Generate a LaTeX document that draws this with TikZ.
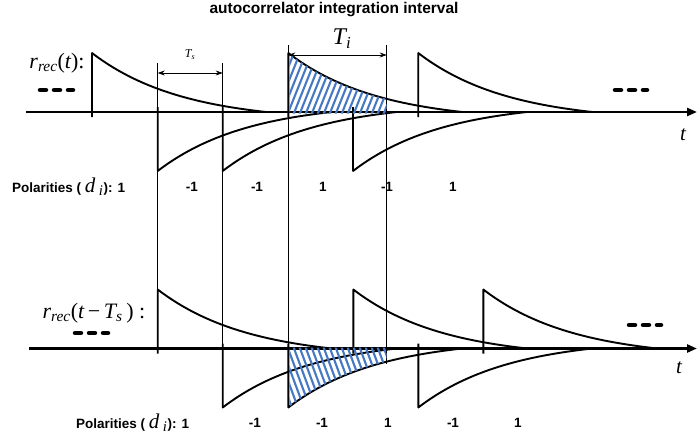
\documentclass[tikz,border=0pt]{standalone}
\usepackage{fontspec}
\setmainfont{Liberation Sans}
\newfontfamily\tms{Liberation Serif}
\usetikzlibrary{arrows.meta}
\definecolor{hatchblue}{RGB}{70,120,196}
\newcommand\pulseat[3]{%
  \draw[sig] (#1,{#2+5*(#3)}) -- (#1,{#2-59*(#3)}) --
    plot[domain=0:174,samples=60] ({#1+\x},{#2-59*(#3)*(exp(-\x/90)-0.1447)/0.8553});}
\begin{document}
\begin{tikzpicture}[x=1pt,y=-1pt,
  axis/.style={line width=2.4pt,-{Triangle[length=10pt,width=8pt]}},
  sig/.style={line width=1.9pt,line join=round},
  guide/.style={line width=0.8pt},
  dim/.style={line width=0.8pt,{Stealth[length=7pt,width=5pt]}-{Stealth[length=7pt,width=5pt]}},
  hatch/.style={draw=hatchblue,line width=2.1pt},
  lbl/.style={font=\bfseries\fontsize{13.5}{15}\selectfont,inner sep=0pt},
  more/.style={line width=4.5pt,line cap=round,dash pattern=on 6pt off 8pt}
]
\useasboundingbox (0,0) rectangle (697,439);

% title
\node[font=\bfseries\fontsize{15.5}{17}\selectfont,inner sep=0pt] (title) at (334,10) {autocorrelator integration interval};

% guide lines
\coordinate (v1t) at (157.7,63);  \coordinate (v1b) at (157.7,348.5);
\coordinate (v2t) at (222.7,63);  \coordinate (v2b) at (222.7,348.5);
\coordinate (v3t) at (288.3,45);  \coordinate (v3b) at (288.3,406);
\coordinate (v4t) at (386.7,45);  \coordinate (v4b) at (386.7,364);
\draw[guide] (v1t) -- (v1b);
\draw[guide] (v2t) -- (v2b);
\draw[guide] (v3t) -- (v3b);
\draw[guide] (v4t) -- (v4b);

% dimension arrows
\coordinate (tsl) at (157.7,73); \coordinate (tsr) at (222.7,73);
\draw[dim] (tsl) -- (tsr);
\node[inner sep=0pt] (tslabel) at (190,55) {\tms\fontsize{12}{13}\selectfont\itshape T\textsubscript{s}};
\coordinate (til) at (288.3,55); \coordinate (tir) at (386.7,55);
\draw[dim] (til) -- (tir);
\node[inner sep=0pt] (tilabel) at (342,39) {\tms\fontsize{24}{26}\selectfont\itshape T\textsubscript{i}};

% axes
\coordinate (a1s) at (26,112);  \coordinate (a1e) at (697,112);
\coordinate (a2s) at (29,348.5); \coordinate (a2e) at (697,348.5);
\draw[axis] (a1s) -- (a1e);
\draw[axis] (a2s) -- (a2e);
\node[inner sep=0pt] (t1) at (683,135) {\tms\fontsize{21}{23}\selectfont\itshape t};
\node[inner sep=0pt] (t2) at (679,368) {\tms\fontsize{21}{23}\selectfont\itshape t};

% top signal
\pulseat{92}{112}{1}
\pulseat{157.7}{112}{-1}
\pulseat{222.7}{112}{-1}
\pulseat{288.3}{112}{1}
\pulseat{353}{112}{-1}
\pulseat{418.2}{112}{1}

% bottom signal
\pulseat{157.7}{348.5}{1}
\pulseat{222.7}{348.5}{-1}
\pulseat{288.3}{348.5}{-1}
\pulseat{353.3}{348.5}{1}
\pulseat{418.3}{348.5}{-1}
\pulseat{483.3}{348.5}{1}

% hatched areas
\begin{scope}
  \clip (289.3,112) -- plot[domain=1:98.4,samples=40] ({288.3+\x},{112-59*(exp(-\x/90)-0.1447)/0.8553}) -- (386.7,112) -- (386.7,113.5) -- (289.3,113.5) -- cycle;
  \foreach \i in {0,...,22} \draw[hatch] ({262+6*\i},118) -- ++(28,-70);
\end{scope}
\begin{scope}
  \clip (289.3,347.5) -- (289.3,407) -- plot[domain=1:98.4,samples=40] ({288.3+\x},{348.5+59*(exp(-\x/90)-0.1447)/0.8553}) -- (386.7,347.5) -- cycle;
  \foreach \i in {0,...,22} \draw[hatch] ({262+6*\i},343) -- ++(26,70);
\end{scope}

% signal names
\node[inner sep=0pt] (r1) at (57,63) {\tms\fontsize{22}{24}\selectfont\itshape r\textsubscript{rec}\upshape(\itshape t\upshape):};
\node[inner sep=0pt] (r2) at (94,313) {\tms\fontsize{22}{24}\selectfont\itshape r\textsubscript{rec}\upshape(\itshape t\upshape\,−\,\itshape T\textsubscript{s}\upshape\,) :};

% continuation marks
\coordinate (m1a) at (40,90);  \coordinate (m1b) at (73,90);
\coordinate (m2a) at (615,90); \coordinate (m2b) at (647,90);
\coordinate (m3a) at (75,333); \coordinate (m3b) at (108,333);
\coordinate (m4a) at (629,325); \coordinate (m4b) at (661,325);
\draw[more] (m1a) -- (m1b);
\draw[more] (m2a) -- (m2b);
\draw[more] (m3a) -- (m3b);
\draw[more] (m4a) -- (m4b);

% polarities
\node[lbl,anchor=west] (p1) at (12,187) {Polarities ( {\tms\mdseries\fontsize{21}{22}\selectfont\itshape d\,\textsubscript{i}}): 1};
\node[lbl] (p12) at (192,187) {-1};
\node[lbl] (p13) at (257,187) {-1};
\node[lbl] (p14) at (323,187) {1};
\node[lbl] (p15) at (387,187) {-1};
\node[lbl] (p16) at (453,187) {1};

\node[lbl,anchor=west] (p2) at (76,423) {Polarities ( {\tms\mdseries\fontsize{21}{22}\selectfont\itshape d\,\textsubscript{i}}): 1};
\node[lbl] (p22) at (255,423) {-1};
\node[lbl] (p23) at (322,423) {-1};
\node[lbl] (p24) at (388,423) {1};
\node[lbl] (p25) at (453,423) {-1};
\node[lbl] (p26) at (518,423) {1};
\end{tikzpicture}
\end{document}
